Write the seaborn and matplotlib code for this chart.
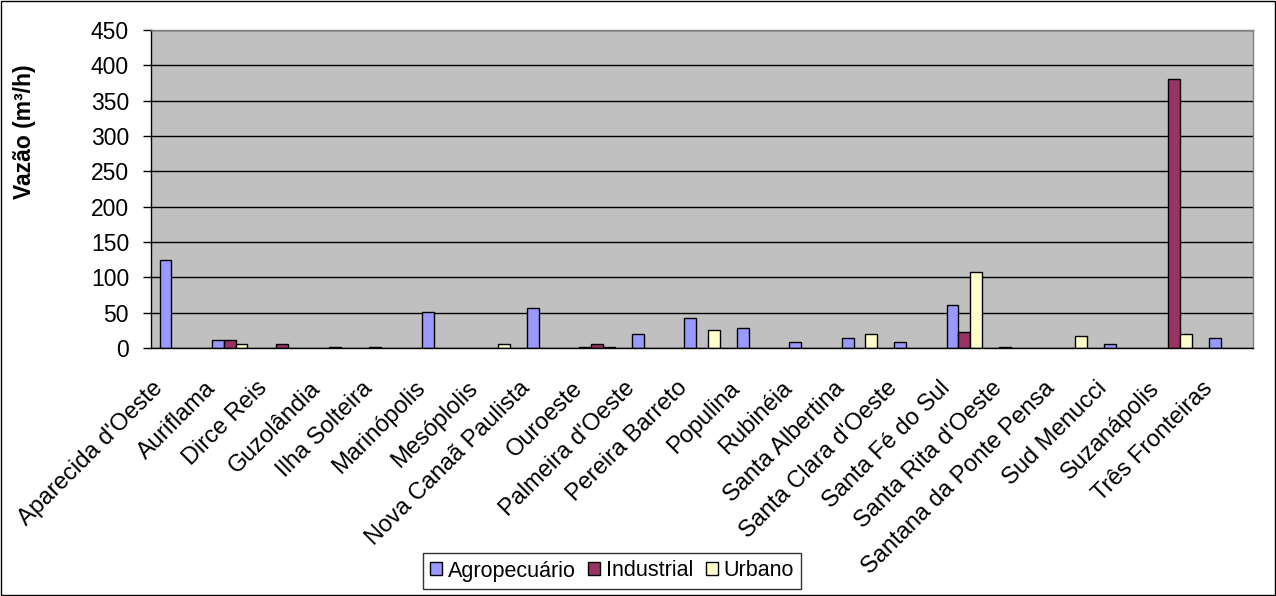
import numpy as np
import pandas as pd
import seaborn as sns
import matplotlib
matplotlib.use("Agg")
import matplotlib.pyplot as plt
import matplotlib.transforms as mtransforms
from matplotlib.patches import Rectangle, Patch

municipios = [
    "Aparecida d'Oeste", "Auriflama", "Dirce Reis", "Guzolândia", "Ilha Solteira",
    "Marinópolis", "Mesóplolis", "Nova Canaã Paulista", "Ouroeste", "Palmeira d'Oeste",
    "Pereira Barreto", "Populina", "Rubinéia", "Santa Albertina", "Santa Clara d'Oeste",
    "Santa Fé do Sul", "Santa Rita d'Oeste", "Santana da Ponte Pensa", "Sud Menucci",
    "Suzanápolis", "Três Fronteiras",
]
usos = ["Agropecuário", "Industrial", "Urbano"]

agropecuario = [125, 12, 0, 0, 1.5, 51, 0, 56, 1.5, 20, 42, 28, 9, 14, 8.5, 61, 1.5, 0, 6, 0, 14]
industrial = [0, 12, 6, 1.5, 0, 0, 0, 0, 5, 0, 0, 0, 0, 0, 0, 22, 0, 0, 0, 380, 0]
urbano = [0, 6, 0, 0, 0, 0, 6, 0, 1.5, 0, 25.5, 0, 0, 20, 0, 108, 0, 17.5, 0, 20, 0]

cores = ["#9999FF", "#993366", "#FFFFCC"]
y_ticks = [0, 50, 100, 150, 200, 250, 300, 350, 400, 450]

# long-form table; empty cells (zero) are left out so no bar is drawn
df = pd.DataFrame({
    "municipio": municipios * 3,
    "uso": [u for u in usos for _ in municipios],
    "vazao": agropecuario + industrial + urbano,
})
df = df[df["vazao"] > 0]

sns.set_theme(style="white")
plt.rcParams["font.family"] = ["Liberation Sans", "DejaVu Sans"]
plt.rcParams.update({
    "text.color": "black", "axes.labelcolor": "black",
    "xtick.color": "black", "ytick.color": "black",
})

W, H = 1276, 596
fig = plt.figure(figsize=(W / 100, H / 100), dpi=100)
fig.patch.set_facecolor("white")
ax = fig.add_axes([151 / W, 1 - 348 / H, (1253 - 151) / W, (348 - 30) / H])
ax.set_facecolor("#C0C0C0")

sns.barplot(
    data=df, x="municipio", y="vazao", hue="uso",
    order=municipios, hue_order=usos, palette=cores,
    width=0.675, gap=0, dodge=True, errorbar=None,
    edgecolor="black", linewidth=1.0, saturation=1, legend=False, ax=ax,
)

ax.set_ylim(0, 450)
ax.set_xlim(-0.5, len(municipios) - 0.5)
ax.set_yticks(y_ticks)
ax.set_yticklabels([str(v) for v in y_ticks], fontsize=16.5)
ax.yaxis.grid(True, color="black", linewidth=1)
ax.set_axisbelow(True)

ax.set_xticks(range(len(municipios)))
ax.set_xticklabels(municipios, rotation=45, ha="right", va="top", fontsize=17)
ax.set_xticks(np.arange(-0.5, len(municipios), 1), minor=True)
ax.tick_params(axis="x", which="major", length=0, pad=21)
ax.tick_params(axis="x", which="minor", length=5.8, width=1, color="black", direction="out")
ax.tick_params(axis="y", length=5.8, width=1, color="black", direction="out", left=True, pad=10)

# nudge the slanted category names a little to the left
shift = mtransforms.ScaledTranslation(-10 / 100, 0, fig.dpi_scale_trans)
for lbl in ax.get_xticklabels():
    lbl.set_transform(lbl.get_transform() + shift)

ax.set_xlabel("")
ax.set_ylabel("Vazão (m³/h)", fontsize=16.5, fontweight="bold")
ax.yaxis.set_label_coords((36 - 151) / (1253 - 151), 1 - (132 - 30) / (348 - 30))

for side in ["left", "bottom"]:
    ax.spines[side].set_color("black")
    ax.spines[side].set_linewidth(1)
for side in ["top", "right"]:
    ax.spines[side].set_color("#808080")
    ax.spines[side].set_linewidth(1)

handles = [Patch(facecolor=c, edgecolor="black", linewidth=1) for c in cores]
leg = fig.legend(
    handles, usos, loc="center", bbox_to_anchor=(612 / W, 1 - 571 / H),
    ncol=3, fontsize=15.5, frameon=True, fancybox=False, edgecolor="black",
    handlelength=0.56, handleheight=0.56, handletextpad=0.25, columnspacing=0.6,
    borderpad=0.35, borderaxespad=0,
)
leg.get_frame().set_linewidth(1)

fig.patches.append(Rectangle((1 / W, 1 / H), (W - 2) / W, (H - 2) / H,
                             transform=fig.transFigure, fill=False,
                             edgecolor="black", linewidth=1))

fig.savefig("out.png", dpi=100)
